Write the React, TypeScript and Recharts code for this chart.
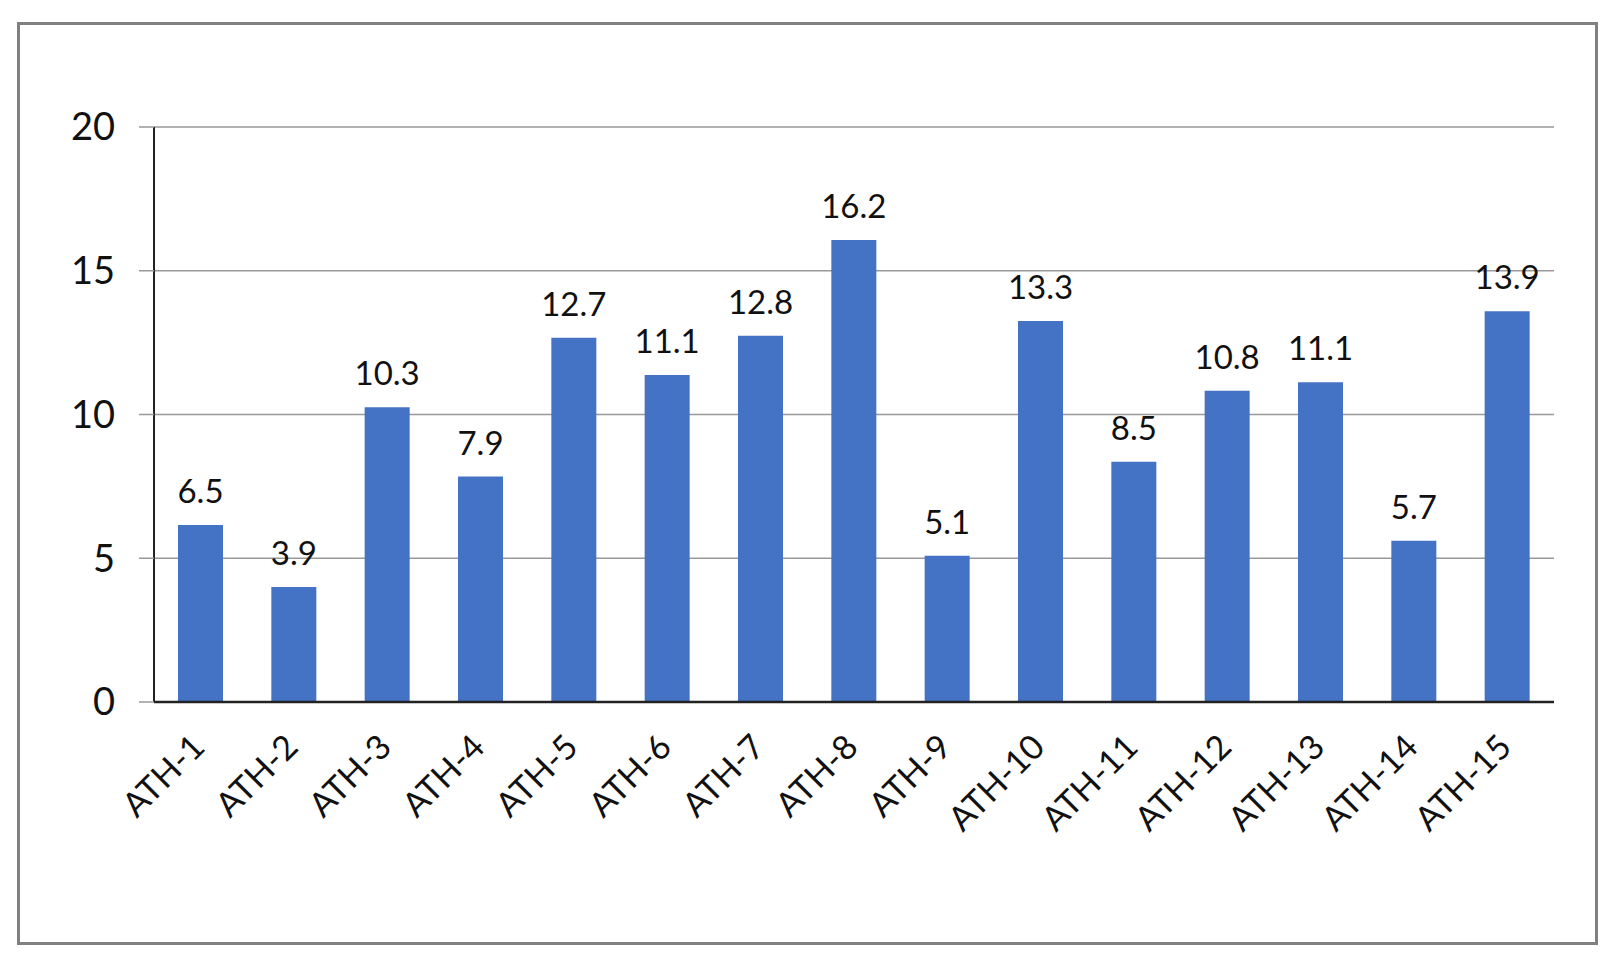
import React from 'react'
import { BarChart, Bar, XAxis, YAxis, CartesianGrid, LabelList } from 'recharts'

/* ATH 샘플별 막대 — 값은 그림에서 읽은 추정치 */

const categories = [
  'ATH-1', 'ATH-2', 'ATH-3', 'ATH-4', 'ATH-5', 'ATH-6', 'ATH-7', 'ATH-8',
  'ATH-9', 'ATH-10', 'ATH-11', 'ATH-12', 'ATH-13', 'ATH-14', 'ATH-15',
]
// bar heights as drawn
const values = [6.16, 4.0, 10.25, 7.84, 12.67, 11.37, 12.74, 16.07, 5.09, 13.25, 8.36, 10.83, 11.12, 5.61, 13.59]
// printed data labels (they don't quite match the bars in the original)
const valueLabels = ['6.5', '3.9', '10.3', '7.9', '12.7', '11.1', '12.8', '16.2', '5.1', '13.3', '8.5', '10.8', '11.1', '5.7', '13.9']
const yTicks = [0, 5, 10, 15, 20]

const FONT = 'Lato, "Open Sans", sans-serif'
const BAR_COLOR = '#4472C4'

const data = categories.map((name, i) => ({ name, value: values[i], label: valueLabels[i] }))

function XTick(props: any) {
  const { x, y, payload } = props
  const tx = x + 6
  const ty = y + 2
  return (
    <text
      x={tx}
      y={ty}
      transform={`rotate(-45, ${tx}, ${ty})`}
      textAnchor="end"
      fontSize={34}
      fontFamily={FONT}
      fill="#111"
    >
      {payload.value}
    </text>
  )
}

function TopLabel(props: any) {
  const { x, y, width, index } = props
  return (
    <text
      x={Number(x) + Number(width) / 2}
      y={Number(y) - 22}
      textAnchor="middle"
      fontSize={33}
      fontFamily={FONT}
      fill="#111"
    >
      {valueLabels[index]}
    </text>
  )
}

export default function App() {
  return (
    <div style={{ position: 'absolute', left: 0, top: 0, width: 1619, height: 971, background: '#fff' }}>
      {/* 외곽 테두리 */}
      <div
        style={{
          position: 'absolute',
          left: 17,
          top: 22,
          width: 1575,
          height: 917,
          border: '3px solid #808080',
        }}
      />
      <div style={{ position: 'absolute', left: 0, top: 0 }}>
        <BarChart
          width={1619}
          height={971}
          data={data}
          margin={{ top: 127, right: 65, left: 94, bottom: 169 }}
          barSize={45}
        >
          <CartesianGrid vertical={false} stroke="#999" strokeWidth={1.5} />
          <XAxis
            dataKey="name"
            height={100}
            interval={0}
            tickLine={false}
            tickSize={0}
            tickMargin={45}
            axisLine={{ stroke: '#222', strokeWidth: 2.5 }}
            tick={<XTick />}
          />
          <YAxis
            width={60}
            domain={[0, 20]}
            ticks={yTicks}
            tickSize={15}
            tickMargin={24}
            axisLine={{ stroke: '#222', strokeWidth: 2 }}
            tickLine={{ stroke: '#999', strokeWidth: 1.5 }}
            tick={{ fontSize: 38, fontFamily: FONT, fill: '#111' }}
          />
          <Bar dataKey="value" fill={BAR_COLOR} isAnimationActive={false}>
            <LabelList dataKey="label" content={<TopLabel />} />
          </Bar>
        </BarChart>
      </div>
    </div>
  )
}
